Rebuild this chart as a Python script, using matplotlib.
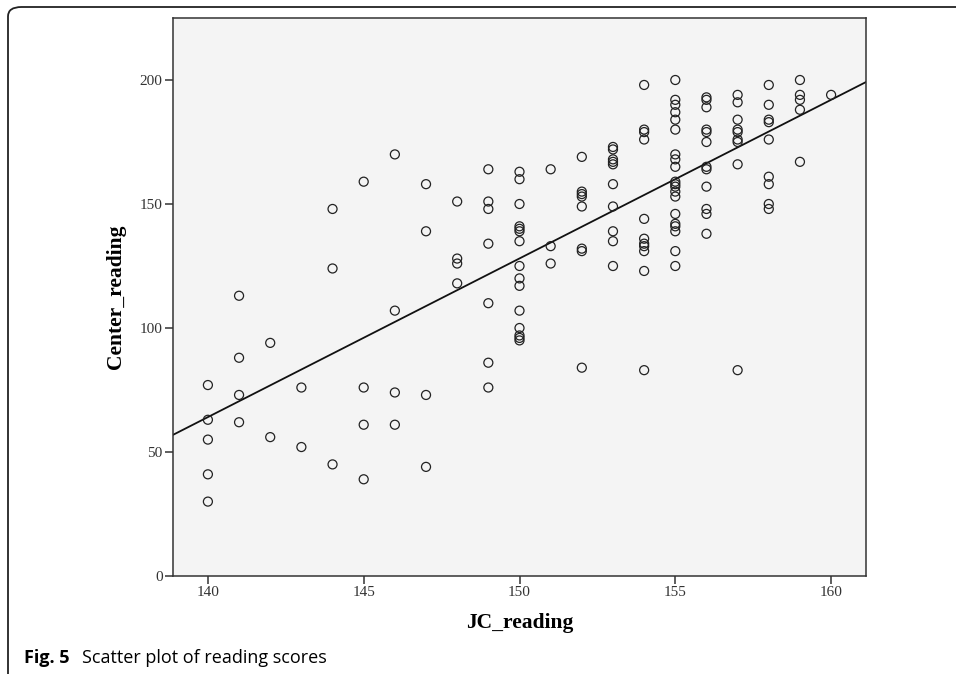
import numpy as np
import matplotlib.pyplot as plt
from matplotlib.patches import FancyBboxPatch

# JC_reading score for every case, column by column
jc_reading = (
    [140] * 5 + [141] * 4 + [142] * 2 + [143] * 2 + [144] * 3 + [145] * 4
    + [146] * 4 + [147] * 4 + [148] * 4 + [149] * 7 + [150] * 15 + [151] * 3
    + [152] * 8 + [153] * 10 + [154] * 11 + [155] * 20 + [156] * 12
    + [157] * 9 + [158] * 9 + [159] * 5 + [160] * 1
)
# matching Center_reading score, same order
center_reading = [
    77, 63, 55, 41, 30,
    113, 88, 73, 62,
    94, 56,
    76, 52,
    148, 124, 45,
    159, 76, 61, 39,
    170, 107, 74, 61,
    158, 139, 73, 44,
    151, 128, 126, 118,
    164, 151, 148, 134, 110, 86, 76,
    163, 160, 150, 141, 140, 139, 135, 125, 120, 117, 107, 100, 97, 96, 95,
    164, 133, 126,
    169, 155, 154, 153, 149, 132, 131, 84,
    173, 172, 168, 167, 166, 158, 149, 139, 135, 125,
    198, 180, 179, 176, 144, 136, 134, 133, 131, 123, 83,
    200, 192, 190, 187, 184, 180, 170, 168, 165, 159, 158, 157, 155, 153,
    146, 142, 141, 139, 131, 125,
    193, 192, 189, 180, 179, 175, 165, 164, 157, 148, 146, 138,
    194, 191, 184, 180, 179, 176, 175, 166, 83,
    198, 190, 184, 183, 176, 161, 158, 150, 148,
    200, 194, 192, 188, 167,
    194,
]
x_ticks = [140, 145, 150, 155, 160]
y_ticks = [0, 50, 100, 150, 200]

SERIF = ["Liberation Serif", "DejaVu Serif"]

fig = plt.figure(figsize=(9.56, 6.74), dpi=100)
ax = fig.add_axes([173 / 956, 98 / 674, 693 / 956, 558 / 674])
ax.set_facecolor("#f4f4f4")

x = np.asarray(jc_reading, dtype=float)
y = np.asarray(center_reading, dtype=float)

ax.set_xlim(138.88, 161.12)
ax.set_ylim(0, 225)

# fit line across the whole plot width
slope, intercept = np.polyfit(x, y, 1)
xl = np.array(ax.get_xlim())
ax.plot(xl, slope * xl + intercept, color="#111111", lw=1.3, zorder=2)

ax.scatter(x, y, s=42, facecolors="none", edgecolors="#222222",
           linewidths=0.9, zorder=3)

ax.set_xticks(x_ticks)
ax.set_yticks(y_ticks)
ax.tick_params(direction="out", length=5.5, width=1.1, color="#333333",
               labelsize=11, labelcolor="#333333", pad=2)
for lab in ax.get_xticklabels() + ax.get_yticklabels():
    lab.set_family(SERIF)
for sp in ax.spines.values():
    sp.set_linewidth(1.1)
    sp.set_color("#333333")

ax.set_xlabel("JC_reading", family=SERIF, fontweight="bold",
              fontsize=15.5, labelpad=10)
ax.set_ylabel("Center_reading", family=SERIF, fontweight="bold",
              fontsize=15.5, labelpad=10)

# journal frame (open at bottom/right edge of the image)
frame = FancyBboxPatch((8 / 956, -20 / 674), 980 / 956, 687 / 674,
                       boxstyle="round,pad=0,rounding_size=0.014",
                       transform=fig.transFigure, fill=False,
                       edgecolor="#222222", lw=1.3)
fig.patches.append(frame)

fig.text(24 / 956, 1 - 658 / 674, "Fig. 5", family="Open Sans",
         fontweight="bold", fontsize=13, va="center", ha="left")
fig.text(82 / 956, 1 - 658 / 674, "Scatter plot of reading scores",
         family="Open Sans", fontsize=13, va="center", ha="left")

fig.savefig("out.png", dpi=100)
